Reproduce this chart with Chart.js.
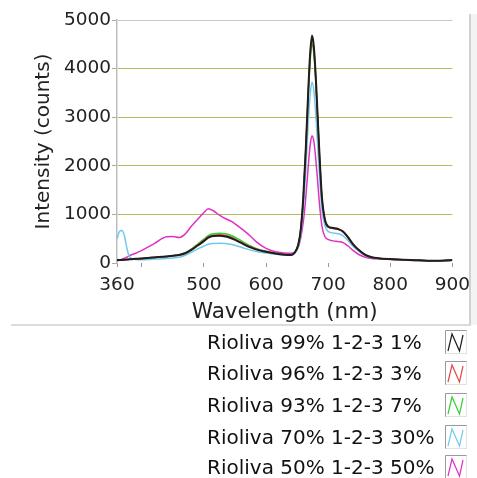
<!DOCTYPE html>
<html>
<head>
<meta charset="utf-8">
<script src="https://cdn.jsdelivr.net/npm/chart.js@4.4.1/dist/chart.umd.min.js"></script>
<style>
	body { margin: 0; background: #fff; font-family: "DejaVu Sans", sans-serif; }
	#wrap { position: relative; width: 477px; height: 478px; overflow: hidden; }
	#chart { position: absolute; left: 0; top: 0; }
	.rule { position: absolute; left: 11px; top: 324px; width: 460px; height: 2px; background: #dcdcdc; }
	.edge { position: absolute; left: 469px; top: 14px; width: 2px; height: 311px; background: #d2d2d2; }
	.edge-shade { position: absolute; left: 471px; top: 14px; width: 6px; height: 311px; background: #f3f3f3; }
	.row { position: absolute; left: 207px; height: 26px; line-height: 26px; font-size: 20px; color: #111; white-space: nowrap; }
	.row canvas { position: absolute; left: 238px; top: 1px; }
</style>
</head>
<body>
<div id="wrap">
	<canvas id="chart" width="477" height="330"></canvas>
	<div class="rule"></div>
	<div class="edge"></div>
	<div class="edge-shade"></div>
	<div id="legend"></div>
</div>
<script>
// wavelength grid (nm)
const wavelengths = [360, 364, 368, 372, 376, 380, 390, 400, 420, 440, 450, 460, 470, 480, 490, 500,
	507, 515, 525, 535, 545, 555, 565, 575, 585, 600, 615, 630, 640, 646, 652, 656, 660, 664, 668, 671,
	674, 677, 680, 683, 686, 690, 695, 700, 708, 716, 724, 732, 740, 750, 760, 770, 780, 800, 820, 840,
	860, 880, 900];

// intensity (counts) per blend
const rio99 = [60, 62, 64, 66, 70, 75, 85, 95, 115, 135, 150, 165, 200, 270, 360, 450,
	520, 555, 560, 545, 505, 445, 380, 320, 275, 230, 195, 172, 165, 210, 380, 700, 1350, 2350, 3550, 4300,
	4680, 4450, 3850, 3050, 2250, 1350, 880, 750, 720, 700, 650, 530, 390, 260, 165, 120, 100, 80, 68, 58,
	48, 45, 62];
const rio96 = [60, 62, 64, 66, 70, 75, 85, 95, 115, 135, 150, 165, 205, 280, 375, 470,
	540, 570, 580, 565, 525, 460, 395, 335, 285, 235, 198, 175, 168, 215, 385, 710, 1350, 2350, 3500, 4250,
	4620, 4400, 3800, 3000, 2220, 1330, 870, 740, 710, 690, 640, 520, 380, 255, 160, 118, 98, 78, 66, 56,
	48, 46, 58];
const rio93 = [60, 62, 64, 66, 70, 75, 85, 95, 115, 135, 150, 170, 210, 290, 390, 490,
	565, 600, 610, 600, 560, 495, 420, 350, 295, 240, 200, 175, 168, 215, 380, 700, 1330, 2300, 3450, 4150,
	4500, 4300, 3750, 2980, 2200, 1320, 870, 740, 715, 695, 645, 525, 385, 258, 163, 120, 98, 78, 66, 56,
	48, 45, 60];
const rio70 = [500, 650, 670, 560, 300, 130, 70, 65, 80, 95, 105, 120, 160, 220, 290, 350,
	385, 400, 405, 400, 380, 345, 305, 265, 235, 205, 182, 166, 160, 195, 340, 600, 1120, 1900, 2900, 3450,
	3720, 3550, 3080, 2450, 1800, 1100, 760, 650, 620, 600, 560, 460, 345, 235, 150, 110, 92, 75, 63, 54,
	46, 44, 58];
const rio50 = [40, 60, 80, 100, 120, 150, 200, 260, 400, 540, 545, 525, 600, 760, 900, 1040,
	1115, 1075, 985, 910, 850, 760, 660, 550, 430, 300, 230, 205, 200, 225, 330, 520, 850, 1350, 2000, 2420,
	2620, 2500, 2150, 1700, 1220, 760, 540, 485, 455, 440, 420, 350, 260, 170, 120, 95, 85, 72, 60, 52,
	45, 43, 55];

const seriesNames = ["Rioliva 99% 1-2-3 1%", "Rioliva 96% 1-2-3 3%", "Rioliva 93% 1-2-3 7%",
	"Rioliva 70% 1-2-3 30%", "Rioliva 50% 1-2-3 50%"];
const seriesColors = ["#1e1e1e", "#e04a4a", "#34d034", "#72c8f0", "#e030c4"];
const seriesData = [rio99, rio96, rio93, rio70, rio50];

const xTicks = [360, 400, 500, 600, 700, 800, 900];
const yTicks = [0, 1000, 2000, 3000, 4000, 5000];

const tickFont = { family: "DejaVu Sans", size: 18.5 };

const chart = new Chart(document.getElementById('chart'), {
	type: 'line',
	data: {
		datasets: seriesData.map((values, i) => {
			return {
				label: seriesNames[i],
				data: wavelengths.map((w, j) => ({ x: w, y: values[j] })),
				borderColor: seriesColors[i],
				borderWidth: i === 0 ? 2 : 1.5,
				pointRadius: 0,
				cubicInterpolationMode: 'monotone',
				fill: false
			}
		})
	},
	options: {
		responsive: false,
		animation: false,
		devicePixelRatio: 1,
		layout: { padding: { left: 28, right: 24, top: 20, bottom: 0 } },
		plugins: { legend: { display: false }, tooltip: { enabled: false } },
		scales: {
			x: {
				type: 'linear',
				min: 360,
				max: 900,
				afterBuildTicks: (axis) => { axis.ticks = xTicks.map((v) => ({ value: v })) },
				afterFit: (axis) => { axis.height = 67 },
				ticks: {
					autoSkip: false,
					maxRotation: 0,
					padding: 7,
					color: '#222',
					font: tickFont,
					callback: (v) => v === 400 ? '' : String(v)
				},
				grid: { drawOnChartArea: false, drawTicks: true, tickLength: 4, color: '#9a9a9a' },
				border: { display: false },
				title: {
					display: true,
					text: 'Wavelength (nm)',
					color: '#222',
					font: { family: "DejaVu Sans", size: 21.5 },
					padding: { top: 0, bottom: 5 }
				}
			},
			y: {
				min: 0,
				max: 5000,
				afterBuildTicks: (axis) => { axis.ticks = yTicks.map((v) => ({ value: v })) },
				afterFit: (axis) => { axis.width = 89 },
				ticks: { padding: 1, color: '#222', font: tickFont, callback: (v) => String(v) },
				grid: {
					tickLength: 5,
					lineWidth: 1,
					color: (ctx) => {
						if (ctx.index === yTicks.length - 1) return '#c8c8c8';
						if (ctx.index === 0) return 'rgba(0,0,0,0)';
						return '#b6ba62';
					},
					tickColor: '#a8a8a8'
				},
				border: { color: '#bdbdbd', width: 1.5 },
				title: {
					display: true,
					text: 'Intensity (counts)',
					color: '#222',
					font: { family: "DejaVu Sans", size: 20 },
					padding: { top: 4, bottom: 0 }
				}
			}
		}
	}
});

// legend below the plot: label on the left, little zigzag swatch on the right
const legend = document.getElementById('legend');
const rowCenters = [341.5, 373, 404.5, 436.5, 467];
chart.data.datasets.forEach((ds, i) => {
	const row = document.createElement('div');
	row.className = 'row';
	row.style.top = (rowCenters[i] - 13) + 'px';
	row.textContent = ds.label;

	const sw = document.createElement('canvas');
	sw.width = 22;
	sw.height = 24;
	const c = sw.getContext('2d');
	c.strokeStyle = '#e2e2e2';
	c.lineWidth = 1;
	c.strokeRect(0.5, 0.5, 21, 23);
	c.strokeStyle = '#9a9a9a';
	c.beginPath();
	c.moveTo(0.5, 23.5);
	c.lineTo(0.5, 0.5);
	c.lineTo(21.5, 0.5);
	c.stroke();
	c.strokeStyle = ds.borderColor;
	c.lineWidth = 1.2;
	c.beginPath();
	c.moveTo(3, 21);
	c.lineTo(7, 4);
	c.lineTo(14.5, 21);
	c.lineTo(18, 5);
	c.stroke();
	row.appendChild(sw);
	legend.appendChild(row);
});
</script>
</body>
</html>
